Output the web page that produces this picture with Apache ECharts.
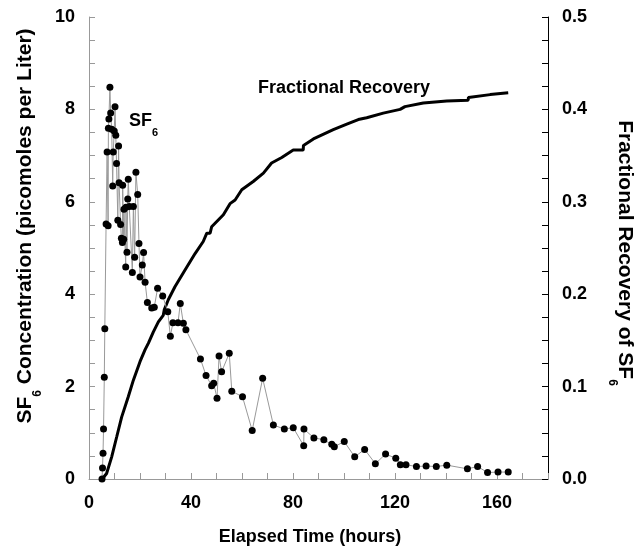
<!DOCTYPE html>
<html><head><meta charset="utf-8">
<script src="https://cdn.jsdelivr.net/npm/echarts@6/dist/echarts.min.js"></script>
<style>html,body{margin:0;padding:0;background:#fff}#c{width:644px;height:548px}</style>
</head><body><div id="c"></div>
<script>
const sfHours = [5.1,5.3,5.5,5.7,6.0,6.2,6.7,7.1,7.5,7.6,
 7.8,8.2,8.5,8.9,9.3,9.5,9.9,10.2,10.5,10.8,
 11.3,11.6,11.8,12.4,12.7,13.1,13.2,13.6,13.7,14.4,
 14.5,14.9,15.2,15.4,15.8,17.0,17.4,17.9,18.4,19.1,
 19.6,20.0,20.9,21.4,22.0,22.9,24.6,25.6,26.9,28.9,
 30.9,31.9,32.9,34.9,35.8,37.0,38.0,43.7,45.9,48.1,
 48.9,50.2,51.0,52.0,55.0,56.0,60.2,64.0,68.1,72.3,
 76.6,80.1,84.2,84.3,88.2,92.1,95.2,96.2,100.1,104.2,
 108.1,112.3,116.3,120.3,122.1,124.3,128.4,132.2,136.2,140.3,
 148.4,152.4,156.3,160.4,164.4];
const sf6 = [0,0.24,0.56,1.08,2.2,3.25,5.52,7.08,5.48,7.59,
 7.79,8.48,7.92,7.57,6.34,7.08,7.53,8.06,7.44,6.83,
 5.6,7.21,6.41,5.51,5.21,5.12,6.36,5.19,5.84,4.59,
 5.88,4.91,6.06,6.49,5.9,4.47,5.9,4.8,6.64,6.16,
 5.10,4.37,4.63,4.9,4.26,3.82,3.70,3.72,4.13,3.96,
 3.62,3.09,3.38,3.38,3.80,3.37,3.23,2.60,2.24,2.02,
 2.07,1.75,2.66,2.32,2.72,1.90,1.78,1.05,2.18,1.17,
 1.08,1.11,0.72,1.08,0.89,0.85,0.75,0.70,0.81,0.48,
 0.64,0.33,0.54,0.45,0.31,0.31,0.27,0.28,0.27,0.30,
 0.22,0.27,0.14,0.15,0.15];
const recHours = [5.2,6.9,8.9,10.9,12.8,15.4,17.4,20.0,22.0,23.3,
 25.2,27.2,29.1,29.5,31.1,33.7,37.6,41.6,44.8,46.2,
 47.5,48.1,52.7,55.3,57.3,59.9,64.4,68.4,71.6,75.6,
 80.1,84.0,84.1,88.0,95.8,101.1,105.6,108.9,115.4,122.0,
 123.9,131.1,140.3,140.4,148.7,148.8,157.3,164.4];
const recovery = [0,0.006,0.024,0.046,0.067,0.089,0.107,0.127,0.140,0.147,
 0.159,0.170,0.177,0.183,0.194,0.208,0.226,0.244,0.257,0.266,
 0.266,0.273,0.286,0.298,0.302,0.313,0.322,0.331,0.342,0.348,
 0.356,0.356,0.361,0.368,0.378,0.384,0.389,0.391,0.396,0.400,
 0.403,0.407,0.409,0.410,0.410,0.413,0.416,0.418];
const xTickLabels = [0,40,80,120,160];
const leftTicks = [0,2,4,6,8,10];
const rightTicks = [0.0,0.1,0.2,0.3,0.4,0.5];

const FF = '"Liberation Sans", Arial, sans-serif';
const rich = {
  a: {fontSize: 18, fontWeight: 'bold', fontFamily: FF, color: '#000'},
  b: {fontSize: 11, fontWeight: 'bold', fontFamily: FF, color: '#000', padding: [22, 0, 0, 0]}
};
const richT = {
  a: {fontSize: 21, fontWeight: 'bold', fontFamily: FF, color: '#000'},
  b: {fontSize: 12, fontWeight: 'bold', fontFamily: FF, color: '#000', padding: [25, 0, 0, 0]}
};
const chart = echarts.init(document.getElementById('c'), null, {renderer: 'canvas'});
chart.setOption({
  animation: false,
  backgroundColor: '#fff',
  grid: {left: 89, right: 96, top: 17, bottom: 69, containLabel: false},
  xAxis: {
    type: 'value', min: 0, max: 180, interval: 20,
    axisLine: {show: true, onZero: false, lineStyle: {color: '#999', width: 1}},
    axisTick: {show: true, inside: true, length: 6, lineStyle: {color: '#999'}},
    minorTick: {show: true, splitNumber: 2, length: 6, lineStyle: {color: '#999'}},
    splitLine: {show: false},
    axisLabel: {margin: 15, fontSize: 18, fontWeight: 'bold', fontFamily: FF, color: '#000',
      formatter: v => xTickLabels.includes(v) ? String(v) : ''}
  },
  yAxis: [{
    type: 'value', min: 0, max: 10, interval: 2, position: 'left',
    axisLine: {show: true, onZero: false, lineStyle: {color: '#999', width: 1}},
    axisTick: {show: true, inside: true, length: 6, lineStyle: {color: '#999'}},
    minorTick: {show: true, splitNumber: 4, length: 6, lineStyle: {color: '#999'}},
    splitLine: {show: false},
    axisLabel: {margin: 14, fontSize: 18, fontWeight: 'bold', fontFamily: FF, color: '#000',
      formatter: v => leftTicks.includes(v) ? String(v) : ''}
  }, {
    type: 'value', min: 0, max: 0.5, interval: 0.1, position: 'right',
    axisLine: {show: true, onZero: false, lineStyle: {color: '#000', width: 1}},
    axisTick: {show: true, inside: true, length: 6, lineStyle: {color: '#000'}},
    minorTick: {show: true, splitNumber: 4, length: 6, lineStyle: {color: '#000'}},
    splitLine: {show: false},
    axisLabel: {margin: 14, fontSize: 18, fontWeight: 'bold', fontFamily: FF, color: '#000',
      formatter: v => v.toFixed(1)}
  }],
  series: [{
    type: 'line', name: 'SF6', yAxisIndex: 0,
    data: sfHours.map((h, i) => [h, sf6[i]]),
    symbol: 'circle', symbolSize: 7,
    lineStyle: {color: '#999', width: 1},
    itemStyle: {color: '#000'},
    z: 3
  }, {
    type: 'line', name: 'Fractional Recovery', yAxisIndex: 1,
    data: recHours.map((h, i) => [h, recovery[i]]),
    showSymbol: false, symbol: 'none',
    lineStyle: {color: '#000', width: 3},
    z: 2
  }],
  graphic: [
    {type: 'text', x: 129, y: 105, style: {text: '{a|SF}{b|6}', rich: rich, align: 'left', verticalAlign: 'top'}},
    {type: 'text', x: 258, y: 79, style: {text: 'Fractional Recovery', fontSize: 18, fontWeight: 'bold', fontFamily: FF, fill: '#000'}},
    {type: 'text', x: 310, y: 537, style: {text: 'Elapsed Time (hours)', fontSize: 18, fontWeight: 'bold', fontFamily: FF, fill: '#000', align: 'center', verticalAlign: 'middle'}},
    {type: 'text', x: 25, y: 226, rotation: Math.PI / 2,
      style: {text: '{a|SF}{b|6}{a| Concentration (picomoles per Liter)}', rich: richT, align: 'center', verticalAlign: 'middle'}},
    {type: 'text', x: 625, y: 253, rotation: -Math.PI / 2,
      style: {text: '{a|Fractional Recovery of SF}{b|6}', rich: richT, align: 'center', verticalAlign: 'middle'}}
  ]
});
</script></body></html>
